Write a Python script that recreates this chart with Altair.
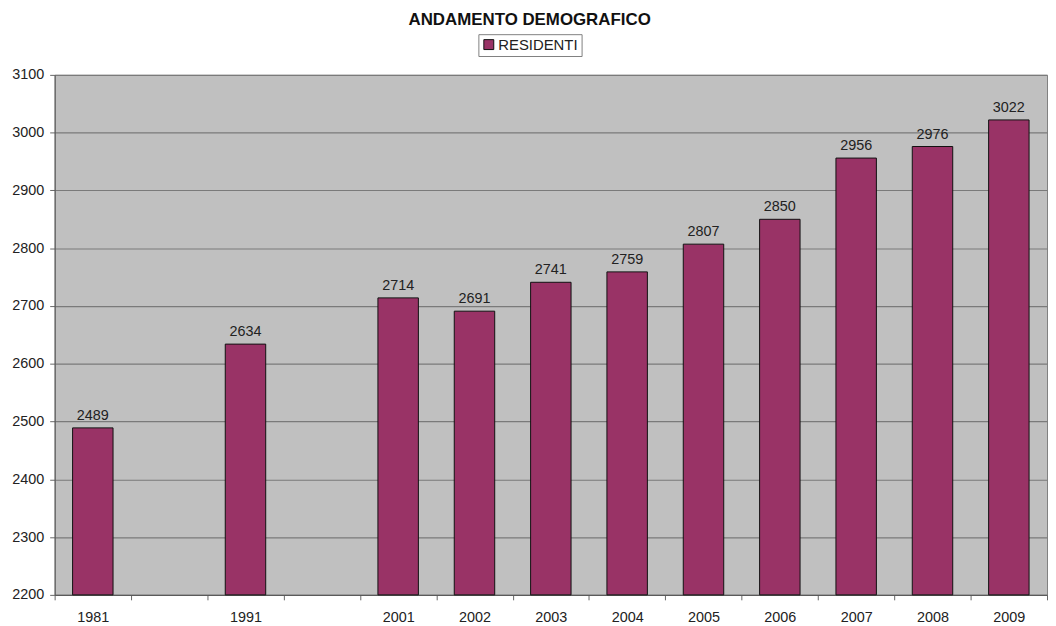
import altair as alt
import pandas as pd

# categories (blank slots keep Excel-like spacing between 1981, 1991 and 2001)
years = ["1981", " ", "1991", "  ", "2001", "2002", "2003", "2004",
         "2005", "2006", "2007", "2008", "2009"]
residents = [2489, None, 2634, None, 2714, 2691, 2741, 2759,
             2807, 2850, 2956, 2976, 3022]
series_name = "RESIDENTI"
y_ticks = [2200, 2300, 2400, 2500, 2600, 2700, 2800, 2900, 3000, 3100]

df = pd.DataFrame({"anno": years, "residenti": residents, "serie": series_name})
df_bars = df.dropna()

FONT = "Liberation Sans"
TXT = "#222222"

x_enc = alt.X(
    "anno:N",
    scale=alt.Scale(domain=years, paddingInner=0, paddingOuter=0),
    sort=None,
    axis=alt.Axis(
        title=None, labelAngle=0, labelFont=FONT, labelFontSize=14.5,
        labelColor=TXT, labelPadding=11, tickSize=5, tickColor="#666666",
        domainColor="#555555", tickBand="extent", grid=False,
    ),
)
y_scale = alt.Scale(domain=[2200, 3100], nice=False, zero=False)

bars = alt.Chart(df_bars).mark_bar(
    width=alt.RelativeBandSize(0.53), stroke="#111111", strokeWidth=1
).encode(
    x=x_enc,
    y=alt.Y(
        "residenti:Q", scale=y_scale,
        axis=alt.Axis(
            title=None, values=y_ticks, format="d", labelFont=FONT,
            labelFontSize=14.5, labelColor=TXT, labelPadding=6, tickSize=5,
            tickColor="#666666", domainColor="#555555", gridColor="#7a7a7a",
            gridWidth=1.2,
        ),
    ),
    y2=alt.datum(2200),
    color=alt.Color(
        "serie:N",
        scale=alt.Scale(range=["#993366"]),
        legend=alt.Legend(
            title=None, orient="none", legendX=427, legendY=-41,
            strokeColor="#808080", fillColor="white", padding=3,
            symbolType="square", symbolSize=100, symbolStrokeColor="#111111",
            symbolStrokeWidth=1, symbolOpacity=1, labelFont=FONT,
            labelFontSize=15, labelColor=TXT, labelOffset=2,
        ),
    ),
)

labels = alt.Chart(df_bars).mark_text(
    baseline="alphabetic", dy=-8, font=FONT, fontSize=14.5, color=TXT
).encode(
    x=alt.X("anno:N", scale=alt.Scale(domain=years, paddingInner=0, paddingOuter=0), sort=None),
    y=alt.Y("residenti:Q", scale=y_scale),
    text=alt.Text("residenti:Q", format="d"),
)

chart = alt.layer(bars, labels).properties(
    width=1000,
    height=524,
    padding={"left": 3, "top": 0, "right": 0, "bottom": 0},
    background="white",
    title=alt.TitleParams(
        "ANDAMENTO DEMOGRAFICO", font=FONT, fontSize=17, fontWeight="bold",
        color="#111111", anchor="middle", frame="bounds", offset=5,
    ),
).configure_view(fill="#c0c0c0", stroke="#808080", strokeWidth=1)

chart.save("out.html", embed_options={"renderer": "svg", "actions": False})
